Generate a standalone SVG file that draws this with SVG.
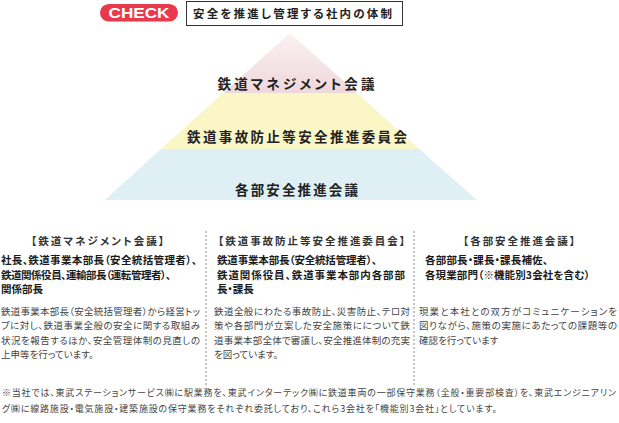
<svg xmlns="http://www.w3.org/2000/svg" width="619" height="423" viewBox="0 0 619 423">
<defs>
<linearGradient id="gTop" x1="0" y1="0" x2="0" y2="1">
<stop offset="0" stop-color="#fbf1f3"/>
<stop offset="1" stop-color="#efd8dc"/>
</linearGradient>
<style>
text{font-family:"Noto Sans CJK JP","Noto Sans",sans-serif;font-feature-settings:"palt";}
.lvl{font-size:13.5px;font-weight:700;fill:#222;text-anchor:middle;}
.hd{font-size:10.5px;font-weight:700;fill:#333;}
.bd{font-size:10.5px;font-weight:700;fill:#1a1a1a;}
.tx{font-size:9.5px;fill:#444;}
.ft{font-size:9px;fill:#444;}
.sep{stroke:#8a8a8a;stroke-width:1;stroke-dasharray:2 2;fill:none;}
</style>
</defs>
<g id="header">
<rect x="100" y="4" width="78" height="17.5" rx="8.75" fill="#e8394d"/>
<text x="139" y="18" text-anchor="middle" style="font-family:'Liberation Sans',Arial,sans-serif;font-feature-settings:normal" font-size="14.5" font-weight="700" fill="#fff" textLength="61" lengthAdjust="spacingAndGlyphs">CHECK</text>
<rect x="186.5" y="1.5" width="216" height="24" fill="#fff" stroke="#333" stroke-width="1"/>
<text x="193" y="18" font-size="11.5" font-weight="700" fill="#222" textLength="199" lengthAdjust="spacing">安全を推進し管理する社内の体制</text>
</g>
<g id="pyramid">
<g id="level-top">
<polygon points="290,33 356.8,93 223.2,93" fill="url(#gTop)"/>
<text class="lvl" x="296" y="89" textLength="157" lengthAdjust="spacing">鉄道マネジメント会議</text>
</g>
<g id="level-middle">
<polygon points="223.2,93 356.8,93 419.2,149 160.8,149" fill="#fbf6c6"/>
<text class="lvl" x="297" y="142" textLength="220" lengthAdjust="spacing">鉄道事故防止等安全推進委員会</text>
</g>
<g id="level-bottom">
<polygon points="160.8,149 419.2,149 477,200 105,200" fill="#dff0f4"/>
<text class="lvl" x="296.5" y="195" textLength="123" lengthAdjust="spacing">各部安全推進会議</text>
</g>
</g>
<g id="connectors">
<line class="sep" x1="206" y1="231" x2="206" y2="386"/>
<line class="sep" x1="414" y1="231" x2="414" y2="386"/>
</g>
<g id="col-management">
<text class="hd" x="31" y="244.5" textLength="133" lengthAdjust="spacing">【鉄道マネジメント会議】</text>
<text class="bd" x="1" y="264" textLength="196" lengthAdjust="spacing">社長、鉄道事業本部長（安全統括管理者）、</text>
<text class="bd" x="1" y="279" textLength="170" lengthAdjust="spacing">鉄道関係役員、運輸部長（運転管理者）、</text>
<text class="bd" x="1" y="293">関係部長</text>
<text class="tx" x="1" y="314.5" textLength="199" lengthAdjust="spacing">鉄道事業本部長（安全統括管理者）から経営トッ</text>
<text class="tx" x="1" y="329" textLength="199" lengthAdjust="spacing">プに対し、鉄道事業全般の安全に関する取組み</text>
<text class="tx" x="1" y="343.5" textLength="199" lengthAdjust="spacing">状況を報告するほか、安全管理体制の見直しの</text>
<text class="tx" x="1" y="358">上申等を行っています。</text>
</g>
<g id="col-committee">
<text class="hd" x="218" y="244.5" textLength="187" lengthAdjust="spacing">【鉄道事故防止等安全推進委員会】</text>
<text class="bd" x="217" y="264" textLength="160" lengthAdjust="spacing">鉄道事業本部長（安全統括管理者）、</text>
<text class="bd" x="217" y="279" textLength="188" lengthAdjust="spacing">鉄道関係役員、鉄道事業本部内各部部</text>
<text class="bd" x="217" y="293">長・課長</text>
<text class="tx" x="214" y="314.5" textLength="196" lengthAdjust="spacing">鉄道全般にわたる事故防止、災害防止、テロ対</text>
<text class="tx" x="214" y="329" textLength="196" lengthAdjust="spacing">策や各部門が立案した安全施策にについて鉄</text>
<text class="tx" x="214" y="343.5" textLength="196" lengthAdjust="spacing">道事業本部全体で審議し、安全推進体制の充実</text>
<text class="tx" x="214" y="358">を図っています。</text>
</g>
<g id="col-departments">
<text class="hd" x="463" y="244.5" textLength="112" lengthAdjust="spacing">【各部安全推進会議】</text>
<text class="bd" x="425" y="264" textLength="123" lengthAdjust="spacing">各部部長・課長・課長補佐、</text>
<text class="bd" x="425" y="279" textLength="165" lengthAdjust="spacing">各現業部門（※機能別3会社を含む）</text>
<text class="tx" x="419" y="314.5" textLength="198" lengthAdjust="spacing">現業と本社との双方がコミュニケーションを</text>
<text class="tx" x="419" y="329" textLength="198" lengthAdjust="spacing">図りながら、施策の実施にあたっての課題等の</text>
<text class="tx" x="419" y="343.5">確認を行っています</text>
</g>
<g id="footnote">
<text class="ft" x="2" y="396" textLength="614" lengthAdjust="spacing">※当社では、東武ステーションサービス㈱に駅業務を、東武インターテック㈱に鉄道車両の一部保守業務（全般・重要部検査）を、東武エンジニアリン</text>
<text class="ft" x="2" y="412" textLength="495" lengthAdjust="spacing">グ㈱に線路施設・電気施設・建築施設の保守業務をそれぞれ委託しており、これら3会社を「機能別3会社」としています。</text>
</g>
</svg>
